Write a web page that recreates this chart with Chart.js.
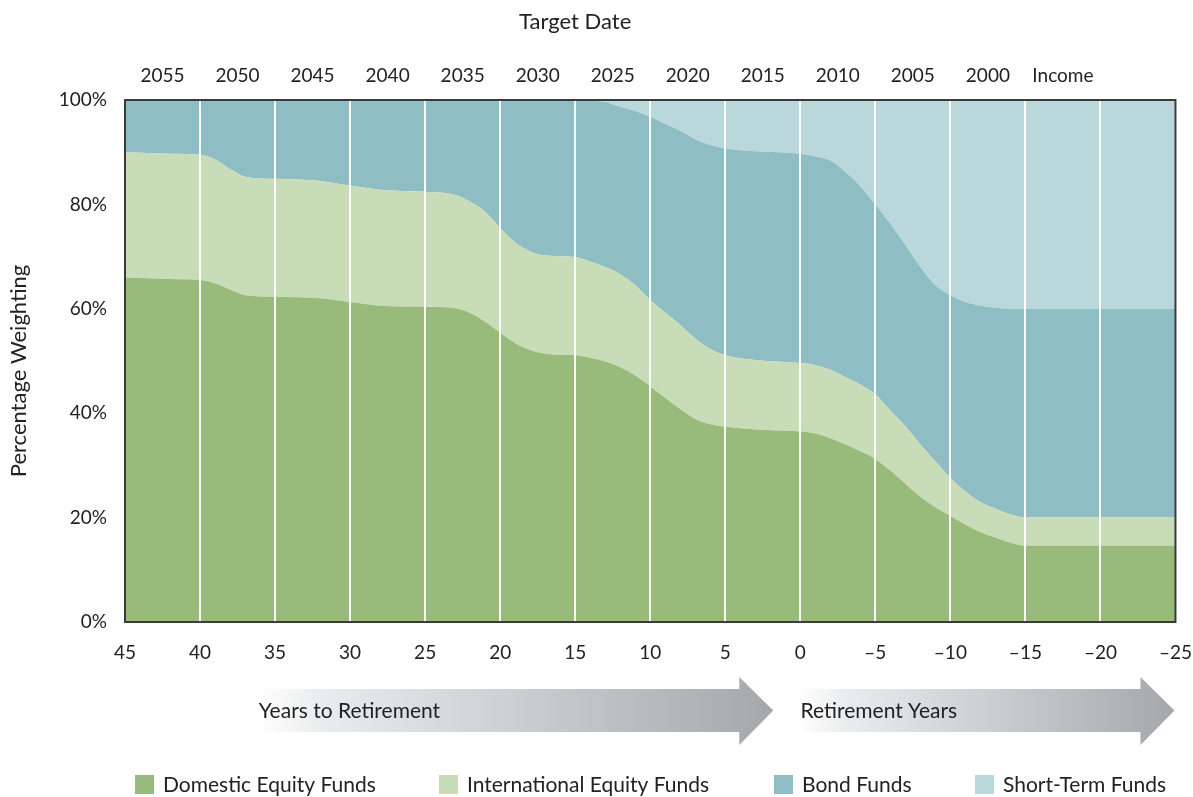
<!DOCTYPE html>
<html><head><meta charset="utf-8">
<script src="https://cdn.jsdelivr.net/npm/chart.js@4.4.1/dist/chart.umd.min.js"></script>
<style>html,body{margin:0;padding:0;background:#fff;overflow:hidden}#wrap{width:1193px;height:797px}</style>
</head><body><div id="wrap"><canvas id="c" width="1193" height="797"></canvas></div>
<script>
// ---- data (years to retirement; negative = years in retirement) ----
const years = [45,42,40,39,38,37,35,32,30,28,25,23,22,21,20,19,18,17,15,14,13,12,11,10,9,8,7,6,5,3,0,-1,-2,-3,-4,-5,-6,-7,-8,-9,-10,-11,-12,-13,-14,-15,-20,-25];
const domestic      = [66.0,65.7,65.5,64.9,63.7,62.6,62.3,62.0,61.3,60.6,60.4,60.1,59.2,57.5,55.4,53.4,52.1,51.4,51.1,50.6,49.9,48.8,47.2,45.1,42.9,40.8,38.9,37.9,37.4,36.9,36.5,36.1,35.2,34.0,32.7,31.2,29.0,26.5,24.0,22.0,20.3,18.7,17.2,16.2,15.2,14.6,14.6,14.6];
const international = [24.0,24.0,24.0,23.7,23.1,22.7,22.6,22.5,22.3,22.2,22.0,21.7,21.3,21.1,20.1,19.3,18.9,18.8,18.8,18.4,18.1,17.8,17.3,16.6,16.4,16.1,15.4,14.4,13.7,13.3,13.1,13.1,13.1,12.9,12.8,12.4,11.5,11.0,10.0,8.8,7.3,6.3,5.8,5.5,5.4,5.4,5.4,5.4];
const bonds         = [10.0,10.3,10.5,11.4,13.2,14.7,15.1,15.5,16.4,17.2,17.6,18.2,19.5,21.4,24.5,27.3,29.0,29.8,30.1,30.9,31.6,32.1,33.4,35.1,36.1,37.2,38.2,39.1,39.6,40.0,40.1,40.0,40.1,39.3,38.0,36.4,35.8,34.7,34.0,33.7,35.0,36.3,37.6,38.5,39.4,40.0,40.0,40.0];
const shortTerm     = [0,0,0,0,0,0,0,0,0,0,0,0,0,0,0,0,0,0,0,0.1,0.4,1.3,2.1,3.2,4.6,5.9,7.5,8.6,9.3,9.8,10.3,10.8,11.6,13.8,16.5,20.0,23.7,27.8,32.0,35.5,37.4,38.7,39.4,39.8,40.0,40.0,40.0,40.0];
const seriesNames   = ['Domestic Equity Funds','International Equity Funds','Bond Funds','Short-Term Funds'];
const seriesColors  = ['#98bb7b','#c8dcb7','#8fbdc4','#bad8dc'];
const targetDatePos    = [42.5,37.5,32.5,27.5,22.5,17.5,12.5,7.5,2.5,-2.5,-7.5,-12.5,-17.5];
const targetDateLabels = ['2055','2050','2045','2040','2035','2030','2025','2020','2015','2010','2005','2000','Income'];
const yTickValues = [0,20,40,60,80,100];
const arrowLabels = ['Years to Retirement','Retirement Years'];
const topTitle = 'Target Date';
const yTitle = 'Percentage Weighting';

const FONT = 'Lato, "Open Sans", sans-serif';
Chart.defaults.font.family = FONT;
Chart.defaults.font.size = 19;
Chart.defaults.color = '#222';

const allSeries = [domestic, international, bonds, shortTerm];
const datasets = allSeries.map((arr,i)=>({
  label: seriesNames[i],
  data: years.map((y,j)=>({x:y, y:arr[j]})),
  backgroundColor: seriesColors[i],
  borderWidth: 0,
  pointRadius: 0,
  fill: i===0 ? 'origin' : '-1',
  cubicInterpolationMode: 'monotone'
}));

const decor = {
  id:'decor',
  afterDraw(chart){
    const ctx = chart.ctx, a = chart.chartArea, xs = chart.scales.x;
    ctx.save();
    // frame
    ctx.strokeStyle = '#3a3a3a'; ctx.lineWidth = 2;
    ctx.strokeRect(a.left, a.top, a.right-a.left, a.bottom-a.top);
    // titles
    ctx.fillStyle = '#222'; ctx.font = '22px '+FONT; ctx.textBaseline='middle'; ctx.textAlign='center';
    ctx.fillText(topTitle, xs.getPixelForValue(15), 22);
    ctx.save();
    ctx.translate(19, (a.top+a.bottom)/2 + 10);
    ctx.rotate(-Math.PI/2);
    ctx.fillText(yTitle, 0, 0);
    ctx.restore();
    // arrows
    const arrows = [
      {from: xs.getPixelForValue(36.15), to: xs.getPixelForValue(1.8), label: arrowLabels[0]},
      {from: xs.getPixelForValue(0.05), to: a.right-1, label: arrowLabels[1]}
    ];
    const yT = a.bottom+67, yB = a.bottom+110, hT = a.bottom+55, hB = a.bottom+123, tipY = (yT+yB)/2;
    arrows.forEach(ar=>{
      const headX = ar.to - 34;
      const g = ctx.createLinearGradient(ar.from,0,ar.to,0);
      g.addColorStop(0,'#ffffff'); g.addColorStop(0.12,'#ebeced'); g.addColorStop(1,'#a6a7aa');
      ctx.fillStyle = g;
      ctx.beginPath();
      ctx.moveTo(ar.from,yT); ctx.lineTo(headX,yT); ctx.lineTo(headX,hT); ctx.lineTo(ar.to,tipY);
      ctx.lineTo(headX,hB); ctx.lineTo(headX,yB); ctx.lineTo(ar.from,yB); ctx.closePath(); ctx.fill();
      ctx.fillStyle = '#222'; ctx.font = '21px '+FONT; ctx.textBaseline='middle'; ctx.textAlign='left';
      ctx.fillText(ar.label, ar.from+1, tipY+1);
    });
    // legend
    const lx = [135,439,774,975];
    const ly = chart.height - 13;
    seriesNames.forEach((n,i)=>{
      ctx.fillStyle = seriesColors[i];
      ctx.fillRect(lx[i], ly-9, 19, 19);
      ctx.fillStyle = '#222'; ctx.font='21px '+FONT; ctx.textBaseline='middle'; ctx.textAlign='left';
      ctx.fillText(n, lx[i]+28, ly+1);
    });
    ctx.restore();
  }
};

new Chart(document.getElementById('c'),{
  type:'line',
  data:{datasets},
  options:{
    responsive:false, animation:false, devicePixelRatio:1,
    layout:{padding:{left:0,right:0,top:0,bottom:0}},
    plugins:{legend:{display:false}, tooltip:{enabled:false}},
    scales:{
      x:{type:'linear', position:'bottom', reverse:true, min:-25, max:45,
        afterFit(s){ s.height = 175; },
        ticks:{stepSize:5, padding:1, color:'#222', callback:v=> v<0 ? '\u2013'+Math.abs(v) : String(v)},
        grid:{z:1, drawTicks:true, tickLength:18, tickColor:'rgba(0,0,0,0)', lineWidth:2,
          color:c=> (c.tick && (c.tick.value===45 || c.tick.value===-25)) ? 'rgba(0,0,0,0)' : 'rgba(255,255,255,0.95)'},
        border:{display:false}
      },
      x2:{type:'linear', position:'top', reverse:true, min:-25, max:45,
        afterFit(s){ s.height = 100; },
        afterBuildTicks(s){ s.ticks = targetDatePos.map(v=>({value:v})); },
        ticks:{padding:13, color:'#222', autoSkip:false, maxRotation:0,
          callback:(v,i)=> targetDateLabels[i]},
        grid:{display:false, drawTicks:false}, border:{display:false}
      },
      y:{stacked:true, min:0, max:100,
        afterFit(s){ s.width = 125; },
        afterBuildTicks(s){ s.ticks = yTickValues.map(v=>({value:v})); },
        ticks:{padding:18, color:'#222', callback:v=> v+'%'},
        grid:{display:false, drawTicks:false}, border:{display:false}
      }
    }
  },
  plugins:[decor]
});
</script></body></html>
